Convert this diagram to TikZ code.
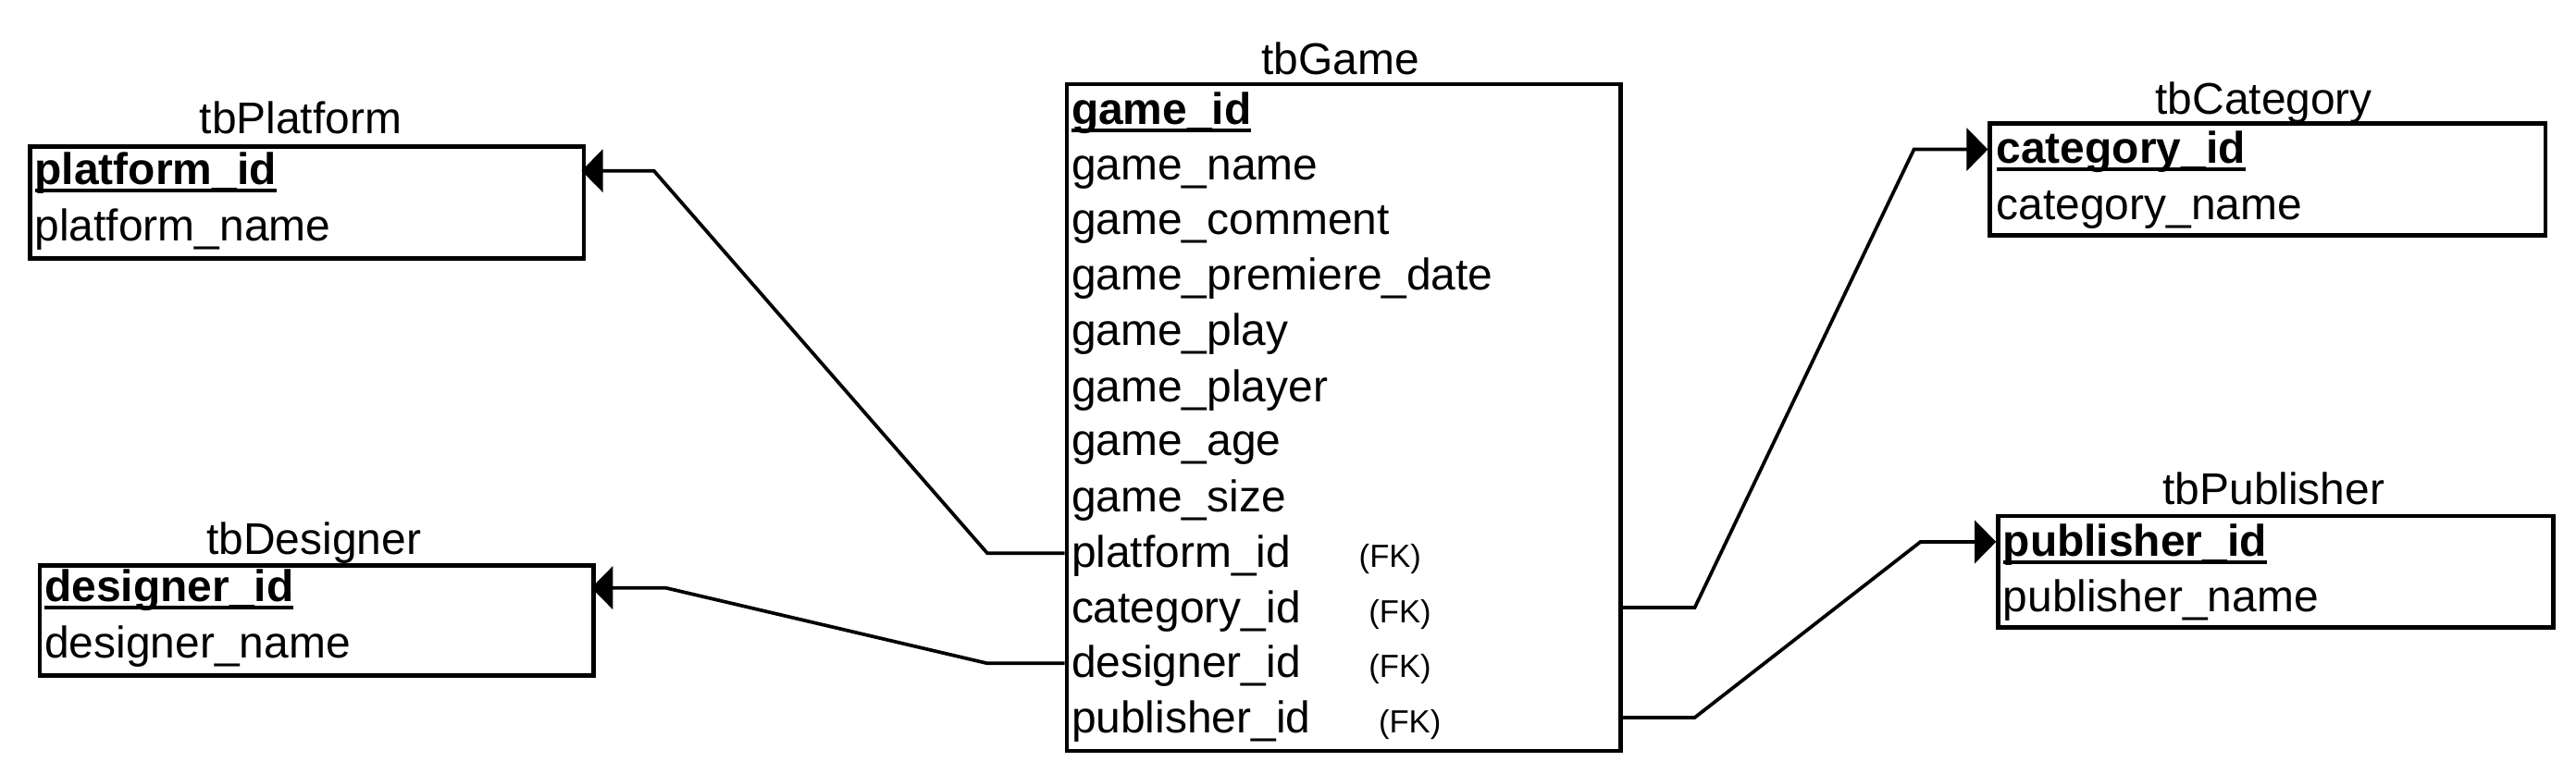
\documentclass[tikz,border=0pt]{standalone}
\usepackage{fontspec}
\setmainfont{Liberation Sans}
\usetikzlibrary{arrows.meta}
\newcommand\pkul[1]{\setbox0\hbox{\bfseries #1}\rlap{\rule[-4.8pt]{\wd0}{2.2pt}}\box0}
\tikzset{
  tbl/.style={draw, line width=2.6pt, inner sep=0pt, anchor=north west},
  fld/.style={anchor=base west, inner sep=0pt, yshift=-1.5pt, font=\fontsize{27}{32}\selectfont},
  ttl/.style={anchor=base, inner sep=0pt, yshift=-1.5pt, font=\fontsize{27}{32}\selectfont},
  fk/.style={anchor=base west, inner sep=0pt, yshift=-1.5pt, font=\fontsize{19.5}{23}\selectfont},
  rel/.style={line width=2.1pt, line join=miter, -{Triangle[length=13pt,width=26pt]}}
}
\begin{document}
\begin{tikzpicture}[x=1pt,y=-1pt]
\useasboundingbox (0,0) rectangle (1568,471);
% tables
\node[tbl, minimum width=337pt, minimum height=68pt] (plat) at (17,88) {};
\node[tbl, minimum width=337pt, minimum height=67pt] (desg) at (23,343) {};
\node[tbl, minimum width=337pt, minimum height=406pt] (game) at (648,50) {};
\node[tbl, minimum width=338pt, minimum height=68pt] (cat) at (1210,74) {};
\node[tbl, minimum width=338pt, minimum height=68pt] (pub) at (1215,313) {};
% titles
\node[ttl] (tplat) at (183,80) {tbPlatform};
\node[ttl] (tdesg) at (191,336) {tbDesigner};
\node[ttl] (tgame) at (816,44) {tbGame};
\node[ttl] (tcat) at (1378,68) {tbCategory};
\node[ttl] (tpub) at (1384,306) {tbPublisher};
% tbPlatform
\node[fld] (pid) at (21,111) {\pkul{platform\_id}};
\node[fld] (pname) at (21,145) {platform\_name};
% tbDesigner
\node[fld] (did) at (27,365) {\pkul{designer\_id}};
\node[fld] (dname) at (27,399) {designer\_name};
% tbCategory
\node[fld] (cid) at (1215,98) {\pkul{category\_id}};
\node[fld] (cname) at (1215,132) {category\_name};
% tbPublisher
\node[fld] (uid) at (1219,337) {\pkul{publisher\_id}};
\node[fld] (uname) at (1219,371) {publisher\_name};
% tbGame
\node[fld] (g1) at (652,74) {\pkul{game\_id}};
\node[fld] (g2) at (652,108) {game\_name};
\node[fld] (g3) at (652,141) {game\_comment};
\node[fld] (g4) at (652,175) {game\_premiere\_date};
\node[fld] (g5) at (652,209) {game\_play};
\node[fld] (g6) at (652,243) {game\_player};
\node[fld] (g7) at (652,276) {game\_age};
\node[fld] (g8) at (652,310) {game\_size};
\node[fld] (gpl) at (652,344) {platform\_id};
\node[fld] (gca) at (652,378) {category\_id};
\node[fld] (gde) at (652,411) {designer\_id};
\node[fld] (gpu) at (652,445) {publisher\_id};
\node[fk] (fk1) at (827,344) {(FK)};
\node[fk] (fk2) at (833,378) {(FK)};
\node[fk] (fk3) at (833,411) {(FK)};
\node[fk] (fk4) at (839,445) {(FK)};
% connector end points on the tables
\coordinate (ppk) at (354,104);
\coordinate (dpk) at (360,358);
\coordinate (cpk) at (1210,91);
\coordinate (upk) at (1215,330);
% relations
\draw[rel] (game.west |- 0,337) -- ++(-47,0) -- ([xshift=44pt]ppk) -- (ppk);
\draw[rel] (game.west |- 0,404) -- ++(-47,0) -- ([xshift=45pt]dpk) -- (dpk);
\draw[rel] (game.east |- 0,370) -- ++(44,0) -- ([xshift=-45pt]cpk) -- (cpk);
\draw[rel] (game.east |- 0,437) -- ++(44,0) -- ([xshift=-46pt]upk) -- (upk);
\end{tikzpicture}
\end{document}
